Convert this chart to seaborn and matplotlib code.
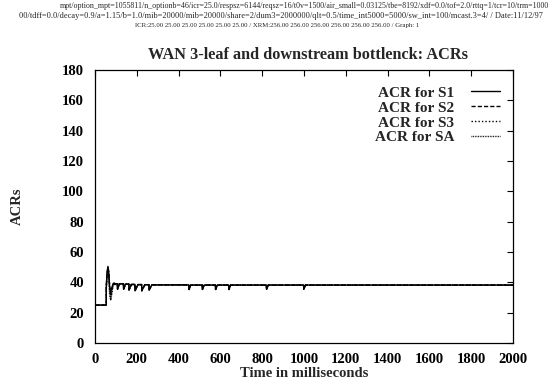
import matplotlib
matplotlib.use("Agg")
import matplotlib.pyplot as plt
import seaborn as sns
import pandas as pd
from matplotlib.lines import Line2D

# ---- data ----
time_ms = [0, 54, 54, 58, 62, 66, 70, 75, 80, 86, 91, 96, 100,
           107, 108, 116,
           136, 137, 146,
           162, 163, 174,
           191, 192, 205,
           223, 224, 238,
           258, 259, 272,
           449, 450, 458,
           513, 514, 522,
           576, 577, 585,
           640, 641, 649,
           820, 821, 829,
           998, 999, 1007,
           2000]

acr_s1 = [25, 25, 38, 47, 50.5, 46, 37, 33.5, 36, 39, 39.5, 38.5, 39.2,
          39, 35.5, 39,
          39, 35.5, 38.8,
          38.8, 35, 38.6,
          38.6, 34.5, 38.5,
          38.5, 34.5, 38.4,
          38.4, 35, 38.3,
          38.3, 35.3, 38.2,
          38.2, 35.3, 38.2,
          38.2, 35.3, 38.2,
          38.2, 35.3, 38.2,
          38.2, 35.5, 38.2,
          38.2, 35.5, 38.2,
          38.2]

acr_s2 = [25, 25, 37, 46, 50, 47, 38, 32, 35, 38.5, 39.5, 38.8, 39,
          39, 35.5, 39,
          39, 35.5, 38.8,
          38.8, 35, 38.6,
          38.6, 34.5, 38.5,
          38.5, 34.5, 38.4,
          38.4, 35, 38.3,
          38.3, 35.3, 38.2,
          38.2, 35.3, 38.2,
          38.2, 35.3, 38.2,
          38.2, 35.3, 38.2,
          38.2, 35.5, 38.2,
          38.2, 35.5, 38.2,
          38.2]

acr_s3 = [25, 25, 36, 45, 49.5, 45, 34, 29, 33, 38, 39.3, 38.6, 39.1,
          39, 35.5, 39,
          39, 35.5, 38.8,
          38.8, 35, 38.6,
          38.6, 34.5, 38.5,
          38.5, 34.5, 38.4,
          38.4, 35, 38.3,
          38.3, 35.3, 38.2,
          38.2, 35.3, 38.2,
          38.2, 35.3, 38.2,
          38.2, 35.3, 38.2,
          38.2, 35.5, 38.2,
          38.2, 35.5, 38.2,
          38.2]

acr_sa = [25, 25, 35, 44, 50, 44, 32, 28, 32, 37.5, 39, 38.5, 39,
          39, 35.5, 39,
          39, 35.5, 38.8,
          38.8, 35, 38.6,
          38.6, 34.5, 38.5,
          38.5, 34.5, 38.4,
          38.4, 35, 38.3,
          38.3, 35.3, 38.2,
          38.2, 35.3, 38.2,
          38.2, 35.3, 38.2,
          38.2, 35.3, 38.2,
          38.2, 35.5, 38.2,
          38.2, 35.5, 38.2,
          38.2]

series_names = ["ACR for S1", "ACR for S2", "ACR for S3", "ACR for SA"]
x_ticks = list(range(0, 2001, 200))
y_ticks = list(range(0, 181, 20))

title = "WAN 3-leaf and downstream bottlenck: ACRs"
header1 = ("mpt/option_mpt=1055811/n_optionb=46/icr=25.0/respsz=6144/reqsz=16/t0v=1500/"
           "air_small=0.03125/tbe=8192/xdf=0.0/tof=2.0/rttq=1/tcr=10/trm=1000")
header2 = ("00/tdff=0.0/decay=0.9/a=1.15/b=1.0/mib=20000/mib=20000/share=2/dum3=2000000/"
           "qlt=0.5/time_int5000=5000/sw_int=100/mcast.3=4/ / Date:11/12/97")
header3 = ("ICR:25.00 25.00 25.00 25.00 25.00 25.00 / "
           "XRM:256.00 256.00 256.00 256.00 256.00 256.00 / Graph: 1")

# ---- build long-form table ----
frames = []
for name, vals in zip(series_names, [acr_s1, acr_s2, acr_s3, acr_sa]):
    frames.append(pd.DataFrame({"time": time_ms, "acr": vals, "series": name}))
df = pd.concat(frames, ignore_index=True)

sns.set_theme(style="white")
plt.rcParams["font.family"] = ["Liberation Serif", "DejaVu Serif"]
plt.rcParams["font.weight"] = "bold"

W, H = 549, 388
fig = plt.figure(figsize=(W / 100, H / 100), dpi=100)
ax = fig.add_axes([95 / W, 1 - 343 / H, (513 - 95) / W, (343 - 70) / H])

dash_map = {"ACR for S1": "", "ACR for S2": (3, 1.5),
            "ACR for S3": (1, 1.5), "ACR for SA": (0.6, 0.6)}
palette = {n: "black" for n in series_names}
sns.lineplot(data=df, x="time", y="acr", hue="series", style="series",
             palette=palette, dashes=dash_map, linewidth=1.0,
             estimator=None, sort=False, ax=ax, legend=False)

ax.set_xlim(0, 2000)
ax.set_ylim(0, 180)
ax.set_xticks(x_ticks)
ax.set_yticks(y_ticks)
ax.set_xticklabels([str(v) for v in x_ticks], fontsize=10.5, fontweight="bold")
ax.set_yticklabels([str(v) for v in y_ticks], fontsize=10.5, fontweight="bold")
ax.tick_params(axis="both", direction="in", length=4, width=0.8,
               top=True, right=True, colors="black")
ax.tick_params(axis="x", pad=7)
ax.tick_params(axis="y", pad=8)
for s in ax.spines.values():
    s.set_visible(True)
    s.set_color("black")
    s.set_linewidth(0.9)

ax.set_xlabel("Time in milliseconds", fontsize=10.5, fontweight="bold", labelpad=1)
ax.set_ylabel("ACRs", fontsize=10.5, fontweight="bold")
ax.yaxis.set_label_coords(-(95 - 24) / (513 - 95), 0.5)
ax.set_title(title, fontsize=11.7, fontweight="bold", pad=8,
             x=(308 - 95) / (513 - 95))

handles = []
for n in series_names:
    d = dash_map[n]
    h = Line2D([], [], color="black", linewidth=1.0)
    if d:
        h.set_dashes(d)
    handles.append(h)
leg = ax.legend(handles, series_names, loc="upper right",
                bbox_to_anchor=(500 / W, 1 - 86 / H), bbox_transform=fig.transFigure,
                frameon=False, markerfirst=False, fontsize=11,
                handlelength=1.9, handletextpad=1.1, labelspacing=0.08,
                borderpad=0, borderaxespad=0)
for t in leg.get_texts():
    t.set_fontweight("bold")

fig.text(60 / W, 1 - 6 / H, header1, fontsize=5.7, fontweight="normal",
         ha="left", va="center")
fig.text(543 / W, 1 - 15.5 / H, header2, fontsize=6.0, fontweight="normal",
         ha="right", va="center")
fig.text(277 / W, 1 - 25 / H, header3, fontsize=4.9, fontweight="normal",
         ha="center", va="center")

fig.savefig("out.png", dpi=100)
